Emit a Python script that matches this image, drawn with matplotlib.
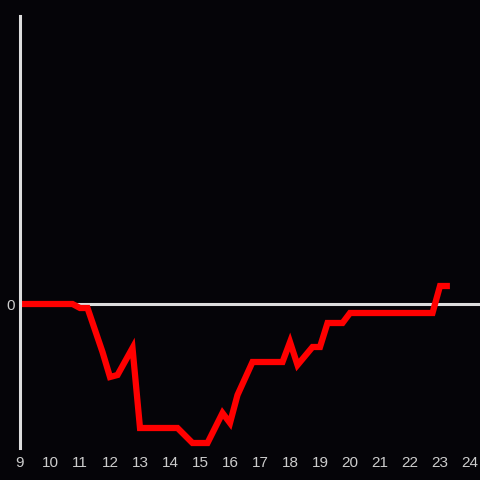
import matplotlib.pyplot as plt

# readings, hour of day vs value (arbitrary units, only 0 is labelled)
hours = [9.0, 10.75, 11.0, 11.25, 11.75, 12.0, 12.25, 12.75, 13.0, 14.25, 14.75,
         15.25, 15.75, 16.0, 16.25, 16.75, 17.75, 18.0, 18.25, 18.75, 19.0,
         19.25, 19.75, 20.0, 22.75, 23.0, 23.33]
values = [0, 0, -4, -4, -48, -73, -71, -44, -124, -124, -139,
          -139, -109, -119, -91, -58, -58, -38, -61, -43, -43,
          -19, -19, -9, -9, 18, 18]
xticks = list(range(9, 25))

bg = '#050408'
fg = '#dddddd'

fig = plt.figure(figsize=(4.8, 4.8), dpi=100, facecolor=bg)
ax = fig.add_axes([20 / 480, 32 / 480, 460 / 480, 432 / 480])
ax.set_facecolor(bg)

ax.axhline(0, color=fg, lw=2.2, zorder=1)
ax.plot(hours, values, color='#ff0000', lw=4.5, solid_joinstyle='miter',
        solid_capstyle='butt', zorder=2)

ax.set_xlim(9, 24.333)
ax.set_ylim(-144, 288)
ax.set_xticks(xticks)
ax.set_yticks([0])

for s in ['top', 'right', 'bottom']:
    ax.spines[s].set_visible(False)
ax.spines['left'].set_color(fg)
ax.spines['left'].set_linewidth(2.2)

ax.tick_params(length=0, colors='#cccccc', labelsize=11)
ax.tick_params(axis='x', pad=6)
ax.tick_params(axis='y', pad=4)
for lab in ax.get_xticklabels() + ax.get_yticklabels():
    lab.set_fontfamily('Liberation Sans')

fig.savefig('out.png', dpi=100, facecolor=bg)
